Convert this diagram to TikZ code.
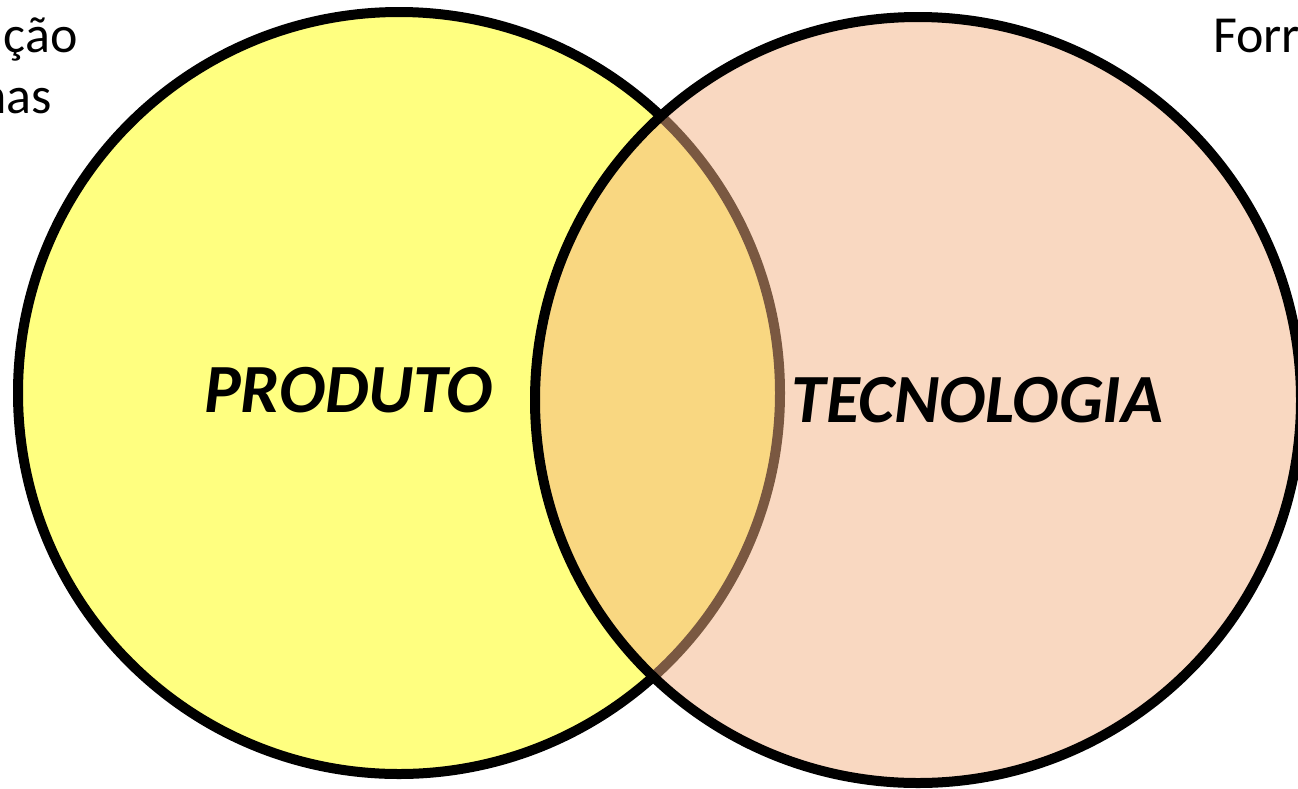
\documentclass[tikz,border=0pt]{standalone}
\usepackage{fontspec}
\setmainfont{Carlito}
\definecolor{prodfill}{HTML}{FFFF80}
\definecolor{tecfill}{HTML}{F4B183}
\begin{document}
\begin{tikzpicture}[x=1pt,y=-1pt,
  venn/.style={circle, inner sep=0pt, outer sep=0pt, draw=black, line width=10pt},
  title/.style={font=\fontsize{69}{69}\selectfont\bfseries\itshape, inner sep=0pt, anchor=base},
  side/.style={font=\fontsize{52}{61}\selectfont, inner sep=0pt}]
% page frame
\clip (0,0) rectangle (1298,788);
% the two sets
\node[venn, fill=prodfill, minimum size=762pt] (produto) at (399,393) {};
\node[venn, fill=tecfill, fill opacity=0.5, minimum size=766pt] (tecnologia) at (918,400) {};
% set names
\node[title] (lprod) at (348.5,412) {PRODUTO};
\node[title] (ltec) at (977.5,422) {TECNOLOGIA};
% side notes running off the page
\node[side, anchor=base east] (l1) at (78,52) {ção};
\node[side, anchor=base east] (l2) at (52,113) {nas};
\node[side, anchor=base west] (r1) at (1213,52) {Forr};
\end{tikzpicture}
\end{document}
